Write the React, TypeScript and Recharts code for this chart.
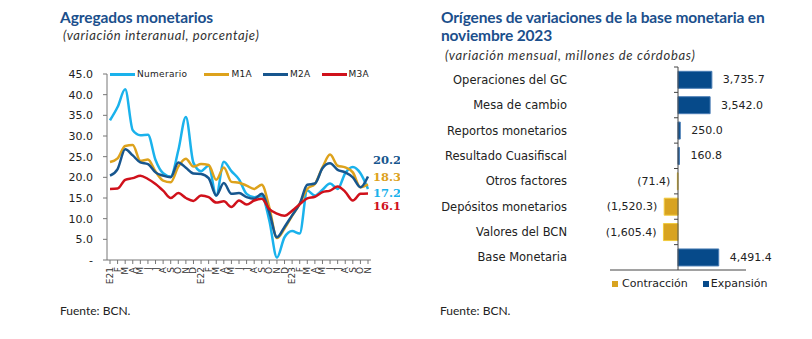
import React from 'react';
import { LineChart, Line, XAxis, YAxis, BarChart, Bar, Cell, LabelList, ReferenceLine, Legend } from 'recharts';

const monthLabels = ['E21','F','M','A','M','J','J','A','S','O','N','D','E22','F','M','A','M','J','J','A','S','O','N','D','E23','F','M','A','M','J','J','A','S','O','N'];
const numerario = [33.8,37.0,41.3,31.4,30.2,30.3,24.2,21.0,20.2,26.5,34.6,23.5,21.5,22.8,15.6,23.8,21.5,19.5,16.0,15.2,15.5,9.5,0.6,5.5,7.0,6.4,16.8,15.6,17.0,18.5,17.2,21.0,22.5,21.0,17.2];
const m1a = [23.7,24.6,27.6,27.8,24.0,24.3,21.4,19.2,18.8,22.6,24.5,22.6,23.2,23.0,19.4,22.4,18.9,18.7,18.0,17.2,18.2,12.7,5.3,7.6,10.7,13.6,17.2,18.4,22.4,25.5,22.8,22.4,21.2,17.6,18.3];
const m2a = [20.4,22.0,26.8,25.3,23.6,23.2,21.2,20.4,20.0,23.6,22.3,20.9,20.8,19.8,15.6,18.6,16.0,16.2,15.2,14.8,16.0,11.5,5.5,8.0,10.8,13.6,18.2,18.5,22.2,23.4,21.8,21.2,20.0,17.6,20.2];
const m3a = [17.2,17.3,19.4,19.8,20.4,19.6,18.4,16.8,15.0,16.2,15.0,14.3,15.6,15.2,13.9,14.2,12.8,14.4,13.4,14.4,14.8,12.3,11.2,10.7,11.9,13.5,14.9,15.3,16.4,16.8,17.8,16.5,14.4,16.0,16.1];
const yTicks = [0,5,10,15,20,25,30,35,40,45];

const barCategories = ['Operaciones del GC','Mesa de cambio','Reportos monetarios','Resultado Cuasifiscal','Otros factores','Depósitos monetarios','Valores del BCN','Base Monetaria'];
const barValues = [3735.7, 3542.0, 250.0, 160.8, -71.4, -1520.3, -1605.4, 4491.4];
const xTicksBar = [-7500,-5000,-2500,0,2500,5000,7500];

const C_NUM = '#1AB2EC';
const C_M1A = '#DDA21C';
const C_M2A = '#17568E';
const C_M3A = '#D0111B';
const C_EXP = '#064A8A';
const C_CON = '#D8A320';
const TITLE = '#1B4F8C';

const lineData = monthLabels.map((m, i) => ({ idx: i, numerario: numerario[i], m1a: m1a[i], m2a: m2a[i], m3a: m3a[i] }));
const barData = barCategories.map((name, i) => ({ name, value: barValues[i] }));

const sans = 'DejaVu Sans';

const MonthTick = (props: any) => {
  const { x, y, payload } = props;
  return (
    <text x={0} y={0} transform={`translate(${x},${y}) rotate(-90)`} textAnchor="end" dominantBaseline="central" fontSize={9} fontFamily={sans} fill="#333">
      {monthLabels[payload.value]}
    </text>
  );
};

const endLabel = (color: string, dy: number) => (props: any) => {
  const { x, y, index, value } = props;
  if (index !== monthLabels.length - 1) return null;
  return (
    <text x={Number(x) + 5} y={Number(y) + dy} fill={color} fontSize={11.5} fontWeight="bold" fontFamily="DejaVu Serif" dominantBaseline="central">
      {Number(value).toFixed(1)}
    </text>
  );
};

const lineLegendItems = [
  { label: 'Numerario', color: C_NUM },
  { label: 'M1A', color: C_M1A },
  { label: 'M2A', color: C_M2A },
  { label: 'M3A', color: C_M3A },
];

const LineLegend = () => (
  <div style={{ display: 'flex', alignItems: 'center', fontFamily: sans, fontSize: 9, color: '#222', whiteSpace: 'nowrap', letterSpacing: 0.3 }}>
    {lineLegendItems.map((it, i) => (
      <div key={it.label} style={{ display: 'flex', alignItems: 'center', marginRight: i === 0 ? 17 : 11 }}>
        <div style={{ width: 25, height: 3, background: it.color, marginRight: 2 }} />
        <span>{it.label}</span>
      </div>
    ))}
  </div>
);

const BarLegend = () => (
  <div style={{ display: 'flex', alignItems: 'center', fontFamily: sans, fontSize: 11, color: '#222', whiteSpace: 'nowrap' }}>
    <div style={{ width: 6, height: 6, background: C_CON, marginRight: 4 }} />
    <span style={{ marginRight: 15 }}>Contracción</span>
    <div style={{ width: 6, height: 6, background: C_EXP, marginRight: 2 }} />
    <span>Expansión</span>
  </div>
);

const fmt = (v: number) => {
  const s = Math.abs(v).toLocaleString('en-US', { minimumFractionDigits: 1, maximumFractionDigits: 1 });
  return v < 0 ? `(${s})` : s;
};

const barLabel = (props: any) => {
  const { x, y, width, height, value } = props;
  const v = Number(value);
  const x0 = Number(x);
  const w = Number(width);
  const end = v >= 0 ? Math.max(x0, x0 + w) : Math.min(x0, x0 + w);
  return (
    <text x={v >= 0 ? end + 11 : end - 7} y={Number(y) + Number(height) / 2} textAnchor={v >= 0 ? 'start' : 'end'} dominantBaseline="central" fontSize={11} fontFamily={sans} fill="#222">
      {fmt(v)}
    </text>
  );
};

const ZeroAxis = (props: any) => {
  const { x1, y1, x2, y2 } = props;
  const top = Math.min(y1, y2);
  const bottom = Math.max(y1, y2);
  const n = barCategories.length;
  const step = (bottom - top) / n;
  const ticks = [];
  for (let k = 0; k < n; k++) {
    const ty = top + k * step;
    ticks.push(<line key={k} x1={x1 - 4} x2={x1} y1={ty} y2={ty} stroke="#444" strokeWidth={1} />);
  }
  return (
    <g>
      <line x1={x1} x2={x2} y1={y1} y2={y2} stroke="#444" strokeWidth={1} />
      {ticks}
    </g>
  );
};

export default function App() {
  return (
    <div style={{ position: 'absolute', left: 0, top: 0, width: 812, height: 339, background: '#fff', overflow: 'hidden' }}>
      <div style={{ position: 'absolute', left: 60, top: 8, fontFamily: 'Lato', fontWeight: 'bold', fontSize: 15.5, lineHeight: '18px', color: TITLE, letterSpacing: -0.1, whiteSpace: 'nowrap' }}>
        Agregados monetarios
      </div>
      <div style={{ position: 'absolute', left: 63, top: 27, fontFamily: 'Lato', fontStyle: 'italic', fontSize: 13, lineHeight: '16px', color: '#333', letterSpacing: 0.6, whiteSpace: 'nowrap' }}>
        (variación interanual, porcentaje)
      </div>
      <div style={{ position: 'absolute', left: 441, top: 8, fontFamily: 'Lato', fontWeight: 'bold', fontSize: 15.5, lineHeight: '18px', color: TITLE, letterSpacing: -0.15, whiteSpace: 'nowrap' }}>
        Orígenes de variaciones de la base monetaria en<br />noviembre 2023
      </div>
      <div style={{ position: 'absolute', left: 445, top: 47, fontFamily: 'Lato', fontStyle: 'italic', fontSize: 13, lineHeight: '16px', color: '#333', letterSpacing: 0.7, whiteSpace: 'nowrap' }}>
        (variación mensual, millones de córdobas)
      </div>
      <div style={{ position: 'absolute', left: 60, top: 303, fontFamily: 'Lato', fontSize: 12, lineHeight: '16px', color: '#222' }}>Fuente: BCN.</div>
      <div style={{ position: 'absolute', left: 440, top: 303, fontFamily: 'Lato', fontSize: 12, lineHeight: '16px', color: '#222' }}>Fuente: BCN.</div>

      <div style={{ position: 'absolute', left: 0, top: 0 }}>
        <LineChart width={400} height={300} data={lineData} margin={{ top: 74, right: 29, bottom: 10, left: 67 }}>
          <XAxis dataKey="idx" type="category" interval={0} tick={<MonthTick />} tickSize={4} tickMargin={3} height={30} padding={{ left: 3, right: 3 }} axisLine={{ stroke: '#777' }} tickLine={{ stroke: '#777' }} />
          <YAxis type="number" domain={[0, 45]} ticks={yTicks} width={40} tickSize={4} tickMargin={10} axisLine={{ stroke: '#777' }} tickLine={{ stroke: '#777' }}
            tickFormatter={(v: number) => (v === 0 ? '-' : v.toFixed(1))} tick={{ fontSize: 11, fill: '#222', fontFamily: sans }} />
          <Legend layout="vertical" verticalAlign="middle" align="center" content={<LineLegend />} wrapperStyle={{ top: 69, left: 110, width: 280, height: 14 }} />
          <Line type="monotone" dataKey="numerario" stroke={C_NUM} strokeWidth={2.5} dot={false} isAnimationActive={false}>
            <LabelList dataKey="numerario" content={endLabel(C_NUM, 4)} />
          </Line>
          <Line type="monotone" dataKey="m1a" stroke={C_M1A} strokeWidth={2.5} dot={false} isAnimationActive={false}>
            <LabelList dataKey="m1a" content={endLabel(C_M1A, -7)} />
          </Line>
          <Line type="monotone" dataKey="m2a" stroke={C_M2A} strokeWidth={2.5} dot={false} isAnimationActive={false}>
            <LabelList dataKey="m2a" content={endLabel(C_M2A, -16.5)} />
          </Line>
          <Line type="monotone" dataKey="m3a" stroke={C_M3A} strokeWidth={2.5} dot={false} isAnimationActive={false}>
            <LabelList dataKey="m3a" content={endLabel(C_M3A, 13)} />
          </Line>
        </LineChart>
      </div>

      <div style={{ position: 'absolute', left: 430, top: 0 }}>
        <BarChart layout="vertical" width={382} height={300} data={barData} margin={{ top: 67, right: 66, bottom: 0, left: 30 }} barCategoryGap="17%">
          <XAxis type="number" domain={[-7500, 7500]} ticks={xTicksBar} tick={false} tickSize={5} height={30} axisLine={{ stroke: '#444' }} tickLine={{ stroke: '#444' }} />
          <YAxis type="category" dataKey="name" width={150} axisLine={false} tickLine={false} tickMargin={37} interval={0}
            tick={{ fontSize: 11.5, fill: '#222', fontFamily: sans }} />
          <Bar dataKey="value" isAnimationActive={false}>
            {barData.map((d, i) => (
              <Cell key={i} fill={d.value >= 0 ? C_EXP : C_CON} stroke={d.value >= 0 ? '#4A7DB5' : '#F2CA3A'} strokeWidth={1} />
            ))}
            <LabelList dataKey="value" content={barLabel} />
          </Bar>
          <ReferenceLine x={0} stroke="#444" shape={ZeroAxis} />
          <Legend layout="vertical" verticalAlign="middle" align="center" content={<BarLegend />} wrapperStyle={{ top: 277, left: 182, width: 200, height: 14 }} />
        </BarChart>
      </div>
    </div>
  );
}
